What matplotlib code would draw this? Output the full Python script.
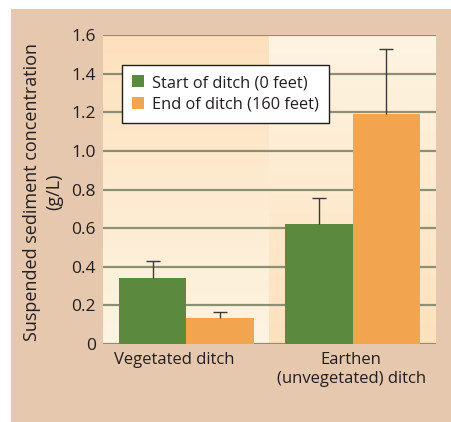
import numpy as np
import matplotlib.pyplot as plt
from matplotlib.patches import Rectangle

# values (g/L)
groups = ["Vegetated ditch", "Earthen\n(unvegetated) ditch"]
series = ["Start of ditch (0 feet)", "End of ditch (160 feet)"]
start_vals = [0.342, 0.621]
start_err = [0.089, 0.137]
end_vals = [0.135, 1.191]
end_err = [0.032, 0.337]
yticks = [0, 0.2, 0.4, 0.6, 0.8, 1.0, 1.2, 1.4, 1.6]
ytick_labels = ["0", "0.2", "0.4", "0.6", "0.8", "1.0", "1.2", "1.4", "1.6"]

green = "#5b8a3e"
orange = "#f2a44f"
tan = "#e5c8ae"
grid_col = "#8b9074"
txt_col = "#231f20"

plt.rcParams['font.family'] = ['Open Sans', 'DejaVu Sans']

fig = plt.figure(figsize=(4.52, 4.22), dpi=100)
fig.patch.set_facecolor("white")
# tan panel behind the whole chart
fig.patches.append(Rectangle((11/452, 0), 1, 1 - 9/422, transform=fig.transFigure,
                             facecolor=tan, edgecolor="none", zorder=-10))

ax = fig.add_axes([103/452, 1 - 344/422, 333/452, 309/422])

# shaded background of each group, vertical gradient
dark = np.array([253, 225, 189]) / 255
light = np.array([254, 244, 226]) / 255
t = np.linspace(0, 1, 64)[:, None]
grad_down = dark + (light - dark) * t      # dark at top
grad_up = light + (dark - light) * t       # light at top
ax.imshow(grad_down[:, None, :], extent=(0, 1, 0, 1.6), aspect="auto", zorder=0)
ax.imshow(grad_up[:, None, :], extent=(1, 2, 0, 1.6), aspect="auto", zorder=0)
ax.set_xlim(0, 2)
ax.set_ylim(0, 1.6)

x = np.array([0.5, 1.5])
w = 0.405
ekw = dict(ecolor="#3a3a3a", elinewidth=1.0, capsize=5, capthick=1.0)
b1 = ax.bar(x - w/2, start_vals, w, color=green, label=series[0], zorder=3,
            yerr=[[0, 0], start_err], error_kw=ekw)
b2 = ax.bar(x + w/2, end_vals, w, color=orange, label=series[1], zorder=3,
            yerr=[[0, 0], end_err], error_kw=ekw)
# only the upper whisker is drawn
for b in (b1, b2):
    caps = b.errorbar.lines[1]
    caps[0].set_visible(False)

ax.set_yticks(yticks)
ax.set_yticklabels(ytick_labels)
ax.yaxis.grid(True, color=grid_col, linewidth=1.6)
ax.set_axisbelow(True)
for g in ax.get_ygridlines():
    g.set_zorder(1)
for s in ax.spines.values():
    s.set_visible(False)
ax.tick_params(axis="y", length=0, pad=5, labelsize=12.5, labelcolor=txt_col)
ax.set_xticks([0.43, 1.49])
ax.set_xticklabels(groups)
ax.tick_params(axis="x", length=0, pad=6, labelsize=12, labelcolor=txt_col)

fig.text(43/452, 1 - 192/422, "Suspended sediment concentration\n(g/L)",
         rotation=90, ha="center", va="center", fontsize=13, color=txt_col,
         linespacing=1.3, multialignment="center")

leg = ax.legend(loc="upper left", bbox_to_anchor=(0.057, 0.903), borderaxespad=0,
                fancybox=False, framealpha=1, edgecolor=txt_col, fontsize=11.8,
                handlelength=0.75, handleheight=0.75, handletextpad=0.45,
                borderpad=0.62, labelspacing=0.32)
leg.get_frame().set_linewidth(1.0)
for txt in leg.get_texts():
    txt.set_color(txt_col)

fig.savefig("out.png", dpi=100)
